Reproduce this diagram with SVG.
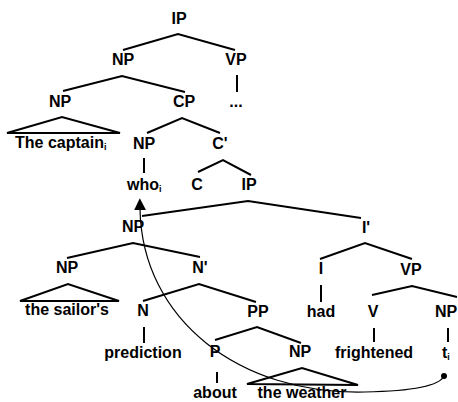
<svg xmlns="http://www.w3.org/2000/svg" width="458" height="402" viewBox="0 0 458 402">
<defs>
<style>
text{font-family:"Liberation Sans",Arial,sans-serif;font-size:16px;font-weight:bold;fill:#000;text-anchor:middle}
.s{font-size:9px}
.st{text-anchor:start}
.e{fill:none;stroke:#000;stroke-width:2;stroke-linejoin:miter}
.mv{fill:none;stroke:#000;stroke-width:1.2}
</style>
<marker id="ah" viewBox="0 0 10 10" refX="1" refY="5" markerWidth="12" markerHeight="12" markerUnits="userSpaceOnUse" orient="auto-start-reverse">
<path d="M0,0 L10,5 L0,10 Z" fill="#000"/>
</marker>
</defs>
<rect width="458" height="402" fill="#fff"/>
<g id="connectors">
<path class="e" d="M123,50 L178,34 L235,50"/>
<path class="e" d="M237,75 V92"/>
<path class="e" d="M63,91 L122,76 L185,92"/>
<path class="e" d="M7,133 L62,117 L120,133 Z"/>
<path class="e" d="M147,133 L182,118 L220,133"/>
<path class="e" d="M144,158 V173"/>
<path class="e" d="M198,172 L223,160 L251,175"/>
<path class="e" d="M142,216 L248,201 L361,218"/>
<path class="e" d="M67,258 L133,243 L200,257"/>
<path class="e" d="M20,301 L68,284 L119,301 Z"/>
<path class="e" d="M143,301 L199,284 L256,302"/>
<path class="e" d="M144,327 V343"/>
<path class="e" d="M215,340 L257,327 L301,343"/>
<path class="e" d="M217,372 V383"/>
<path class="e" d="M247,384 L302,368 L358,385 Z"/>
<path class="e" d="M320,259 L365,243 L412,259"/>
<path class="e" d="M321,285 V302"/>
<path class="e" d="M372,295 L412,286 L457,297"/>
<path class="e" d="M374,328 V342"/>
<path class="e" d="M448,328 V342"/>
<path class="mv" d="M140,209 C142,320 240,395 365,392 C415,391 440,385 444,376" marker-start="url(#ah)"/>
<circle cx="444" cy="376" r="3" fill="#000"/>
</g>
<g id="ip"><text x="179" y="24">IP</text></g>
<g id="np1"><text x="123" y="65">NP</text></g>
<g id="vp1"><text x="236" y="65">VP</text></g>
<g id="dots"><text x="236" y="107">...</text></g>
<g id="np2"><text x="60" y="107">NP</text></g>
<g id="cp"><text x="184" y="107">CP</text></g>
<g id="captain"><text class="st" x="15" y="148">The captain<tspan class="s" dy="2">i</tspan></text></g>
<g id="np3"><text x="144" y="149">NP</text></g>
<g id="cbar"><text x="220" y="149">C'</text></g>
<g id="who"><text class="st" x="127" y="190">who<tspan class="s" dy="2">i</tspan></text></g>
<g id="c"><text x="197" y="190">C</text></g>
<g id="ip2"><text x="249" y="190">IP</text></g>
<g id="np4"><text x="133" y="232">NP</text></g>
<g id="ibar"><text x="366" y="233">I'</text></g>
<g id="np5"><text x="67" y="273">NP</text></g>
<g id="nbar"><text x="200" y="273">N'</text></g>
<g id="sailor"><text x="67" y="315">the sailor's</text></g>
<g id="n"><text x="143" y="316">N</text></g>
<g id="pp"><text x="258" y="317">PP</text></g>
<g id="i"><text x="321" y="274">I</text></g>
<g id="vp2"><text x="411" y="275">VP</text></g>
<g id="had"><text x="321" y="317">had</text></g>
<g id="v"><text x="373" y="317">V</text></g>
<g id="np6"><text x="446" y="317">NP</text></g>
<g id="prediction"><text x="143" y="358">prediction</text></g>
<g id="p"><text x="215" y="357">P</text></g>
<g id="np7"><text x="300" y="357">NP</text></g>
<g id="frightened"><text x="374" y="358">frightened</text></g>
<g id="trace"><text class="st" x="442" y="358">t<tspan class="s" dy="2">i</tspan></text></g>
<g id="about"><text x="215" y="398">about</text></g>
<g id="weather"><text x="302" y="398">the weather</text></g>
</svg>
